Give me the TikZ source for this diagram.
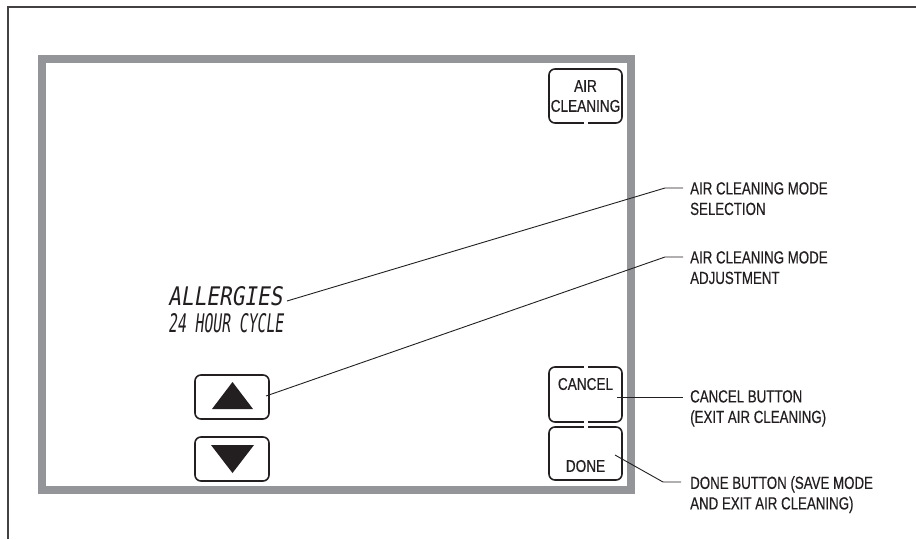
\documentclass[tikz,border=0pt]{standalone}
\usepackage{fontspec}
\usepackage{graphicx}
\setmainfont{Liberation Sans}
\newfontfamily\labfont{Liberation Sans}[FakeStretch=0.76,FakeBold=0.4]
\newfontfamily\btnfont{Liberation Sans}[FakeStretch=0.8,FakeBold=0.4]
\newfontfamily\lcdfont{DejaVu Sans Mono}[FakeSlant=0.2]
\usetikzlibrary{calc}
\definecolor{framegray}{HTML}{939598}
\definecolor{ink}{HTML}{231F20}
\tikzset{
  btn/.style={draw=ink, line width=1.6pt, rounded corners=6pt, inner sep=0pt},
  lead/.style={draw=ink, line width=0.9pt},
  lab/.style={anchor=north west, inner sep=0pt, align=left, text=ink,
    font=\labfont\fontsize{17.5}{20.5}\selectfont},
  btntext/.style={inner sep=0pt, text=ink, align=center,
    font=\btnfont\fontsize{17}{20}\selectfont},
  lcd/.style={inner sep=0pt, anchor=west, text=ink},
  gapfill/.style={fill=white, draw=none},
}
\begin{document}
\begin{tikzpicture}[x=1pt,y=-1pt]
\useasboundingbox (0,0) rectangle (916,539);
\fill[white] (0,0) rectangle (916,539);
% outer frame
\draw[ink!85, line width=1.5pt] (8,539) -- (8,7) -- (916,7);
% display bezel
\draw[framegray, line width=8pt] (42,59) rectangle (631,490);

% buttons
\node[btn, btntext, minimum width=73pt, minimum height=54pt] (aircl) at (585.5,96) {AIR\\CLEANING};
\fill[gapfill] ($(aircl.south)+(-2,-2)$) rectangle ($(aircl.south)+(2,2)$);

\node[btn, minimum width=73pt, minimum height=55pt] (cancel) at (585.5,394.5) {};
\node[btntext] (canceltxt) at (585.5,384) {CANCEL};
\node[btn, minimum width=73pt, minimum height=53pt] (done) at (585.5,453.5) {};
\node[btntext] (donetxt) at (585.5,466) {DONE};
\fill[gapfill] ($(cancel.north)+(-2,-2)$) rectangle ($(cancel.north)+(2,2)$);
\fill[gapfill] ($(cancel.south)+(-2,-2)$) rectangle ($(cancel.south)+(2,2)$);
\fill[gapfill] ($(done.north)+(-2,-2)$) rectangle ($(done.north)+(2,2)$);

\node[btn, minimum width=74pt, minimum height=44pt] (up) at (232,397) {};
\node[btn, minimum width=74pt, minimum height=44pt] (down) at (232,459) {};
\fill[ink] (212,409) -- (253,409) -- (232.5,382) -- cycle;
\fill[ink] (211,445) -- (254,445) -- (232.5,473) -- cycle;

% LCD text
\node[lcd] (lcd1) at (168,296) {\resizebox{114pt}{19pt}{\lcdfont ALLERGIES}};
\node[lcd] (lcd2) at (168,323.5) {\resizebox{115pt}{19pt}{\lcdfont 24 HOUR CYCLE}};

% labels
\node[lab] (sel) at (690,182) {AIR CLEANING MODE\\SELECTION};
\node[lab] (adj) at (690,251) {AIR CLEANING MODE\\ADJUSTMENT};
\node[lab] (can) at (690,390) {CANCEL BUTTON\\(EXIT AIR CLEANING)};
\node[lab] (don) at (690,476) {DONE BUTTON (SAVE MODE\\AND EXIT AIR CLEANING)};

% leaders
\coordinate (s1) at (287,301);
\coordinate (k1) at (665,188);
\coordinate (e1) at (683,188);
\draw[lead] (s1) -- (k1) -- (e1);
\coordinate (s2) at (266,396);
\coordinate (k2) at (665,257);
\coordinate (e2) at (683,257);
\draw[lead] (s2) -- (k2) -- (e2);
\coordinate (s3) at (617,397);
\coordinate (e3) at (683,397);
\draw[lead] (s3) -- (e3);
\coordinate (s4) at (615,455);
\coordinate (k4) at (663,482);
\coordinate (e4) at (681,482);
\draw[lead] (s4) -- (k4) -- (e4);
\end{tikzpicture}
\end{document}
